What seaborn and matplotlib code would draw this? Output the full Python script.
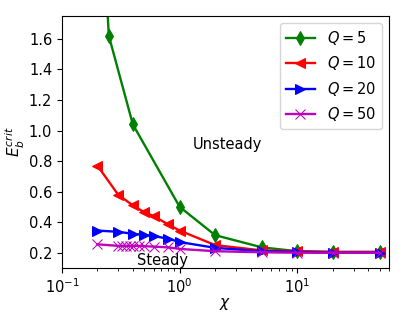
import matplotlib
matplotlib.use("Agg")
from matplotlib import pyplot as plt
import seaborn as sns
import pandas as pd
import numpy as np

# chi values and critical E_b for each Q
chi_q5 = [0.2, 0.25, 0.4, 1.0, 2.0, 5.0, 10.0, 20.0, 50.0]
eb_q5 = [3.0, 1.62, 1.04, 0.50, 0.315, 0.235, 0.21, 0.205, 0.205]

chi_q10 = [0.2, 0.3, 0.4, 0.5, 0.6, 0.8, 1.0, 2.0, 5.0, 10.0, 20.0, 50.0]
eb_q10 = [0.77, 0.58, 0.51, 0.465, 0.44, 0.385, 0.345, 0.25, 0.215, 0.21, 0.205, 0.205]

chi_q20 = [0.2, 0.3, 0.4, 0.5, 0.6, 0.8, 1.0, 2.0, 5.0, 10.0, 20.0, 50.0]
eb_q20 = [0.345, 0.337, 0.324, 0.316, 0.309, 0.292, 0.27, 0.232, 0.21, 0.205, 0.2, 0.2]

chi_q50 = [0.2, 0.3, 0.325, 0.35, 0.375, 0.4, 0.45, 0.5, 0.6, 0.8, 1.0, 2.0, 5.0, 10.0, 20.0, 50.0]
eb_q50 = [0.255, 0.245, 0.245, 0.245, 0.245, 0.245, 0.245, 0.243, 0.24, 0.235, 0.225, 0.21, 0.203, 0.2, 0.2, 0.2]

yticks = [0.2, 0.4, 0.6, 0.8, 1.0, 1.2, 1.4, 1.6]

series = [
    (chi_q5, eb_q5, 'green', 'd', '$Q=5$'),
    (chi_q10, eb_q10, 'red', '<', '$Q=10$'),
    (chi_q20, eb_q20, 'blue', '>', '$Q=20$'),
    (chi_q50, eb_q50, 'm', 'x', '$Q=50$'),
]

plt.rcParams['font.size'] = 10
fig, ax = plt.subplots(figsize=(4.16, 3.12), dpi=100)
fig.subplots_adjust(left=0.149, right=0.935, bottom=0.141, top=0.949)

for x, y, c, m, lab in series:
    sns.lineplot(x=x, y=y, ax=ax, color=c, marker=m, markersize=7,
                 markeredgecolor=c, linewidth=1.7, label=lab)

ax.set_xscale('log')
ax.set_xlim(0.1, 60)
ax.set_ylim(0.1, 1.75)
ax.set_yticks(yticks)
ax.tick_params(labelsize=10.5)
ax.set_xlabel(r'$\chi$', fontsize=11, labelpad=0)
ax.set_ylabel(r'$E_b^{crit}$', fontsize=11, labelpad=1)
ax.text(1.29, 0.91, 'Unsteady', va='center', fontsize=10.5)
ax.text(0.43, 0.15, 'Steady', va='center', fontsize=10.5)
ax.legend(loc='upper right', fontsize=10.5)

fig.savefig('out.png')
